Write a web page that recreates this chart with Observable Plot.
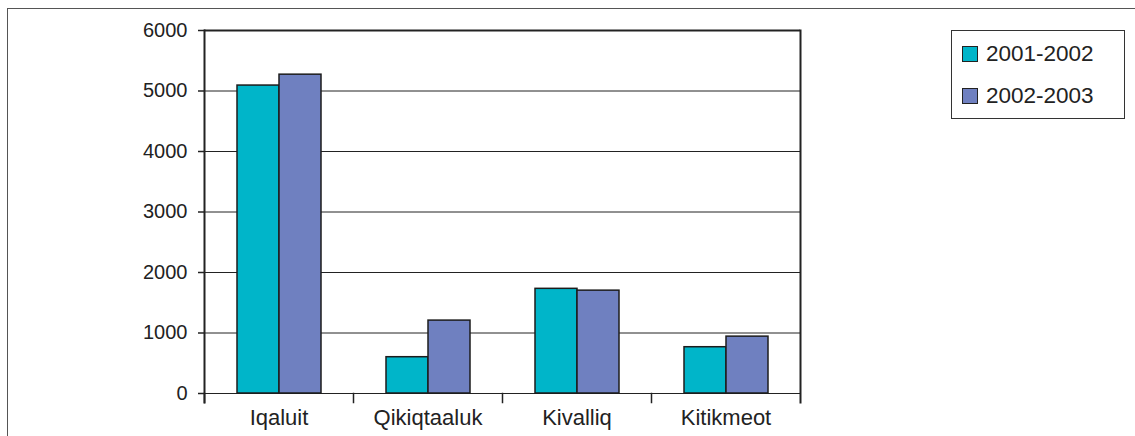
<!DOCTYPE html>
<html>
<head>
<meta charset="utf-8">
<script src="https://cdn.jsdelivr.net/npm/d3@7"></script>
<script src="https://cdn.jsdelivr.net/npm/@observablehq/plot@0.6"></script>
<style>
  html, body { margin: 0; padding: 0; background: #fff; overflow: hidden; }
  #wrap { position: relative; width: 1135px; height: 436px; }
  #outer { position: absolute; left: 7px; top: 8px; width: 1200px; height: 600px; border: 1.5px solid #555; box-sizing: border-box; }
  #legend { position: absolute; left: 951px; top: 30px; width: 174px; height: 89px; border: 1.5px solid #333; box-sizing: border-box;
            font-family: "Liberation Sans", Arial, sans-serif; font-size: 22.5px; color: #222; }
  .item { position: absolute; left: 10px; display: flex; align-items: center; }
  .sw { width: 16px; height: 16px; border: 1.5px solid #222; box-sizing: border-box; margin-right: 8px; }
  svg { position: absolute; left: 0; top: 0; }
</style>
</head>
<body>
<div id="wrap">
  <div id="outer"></div>
  <div id="chart"></div>
  <div id="legend"></div>
</div>
<script>
const regions = ["Iqaluit", "Qikiqtaaluk", "Kivalliq", "Kitikmeot"];
const seriesNames = ["2001-2002", "2002-2003"];
const values2001 = [5090, 600, 1730, 765];
const values2002 = [5270, 1205, 1700, 940];
const yTicks = [0, 1000, 2000, 3000, 4000, 5000, 6000];
const colors = ["#00B5C9", "#6F80C0"];

const seriesValues = [values2001, values2002];
const table = [];
regions.forEach((r, i) => {
  seriesNames.forEach((s, j) => table.push({region: r, series: s, value: seriesValues[j][i]}));
});

const marginTop = 30, marginBottom = 43, H = 436;

const chart = Plot.plot({
  width: 1135,
  height: H,
  marginLeft: 203,
  marginRight: 335,
  marginTop,
  marginBottom,
  style: {fontFamily: "'Liberation Sans', Arial, sans-serif", fontSize: "20px", color: "#222", background: "transparent", overflow: "visible"},
  fx: {domain: regions, padding: 0, label: null, axis: null},
  x: {domain: seriesNames, paddingInner: 0, paddingOuter: 0.75, axis: null},
  y: {domain: [0, 6000], label: null, axis: null},
  color: {domain: seriesNames, range: colors},
  marks: [
    Plot.ruleY(yTicks, {stroke: "#222", strokeWidth: 1}),
    Plot.barY(table, {fx: "region", x: "series", y: "value", fill: "series", stroke: "#1c1c1c", strokeWidth: 1.5}),
    Plot.ruleY([6000], {stroke: "#222", strokeWidth: 2}),
    Plot.frame({anchor: "left", facetAnchor: "left", insetBottom: -9, stroke: "#222", strokeWidth: 2}),
    Plot.frame({anchor: "right", facetAnchor: "right", insetBottom: -9, stroke: "#222", strokeWidth: 2}),
    Plot.frame({anchor: "left", insetTop: H - marginTop - marginBottom, insetBottom: -9, stroke: "#222", strokeWidth: 1.5}),
    Plot.axisY({ticks: yTicks, tickSize: 6, tickPadding: 11, fontSize: 20, label: null, tickFormat: d => String(d), stroke: "#222", strokeWidth: 1.5}),
    Plot.axisFx({anchor: "bottom", tickSize: 0, tickPadding: 16, fontSize: 22, label: null})
  ]
});
document.getElementById("chart").appendChild(chart);

const legend = document.getElementById("legend");
seriesNames.forEach((s, j) => {
  const item = document.createElement("div");
  item.className = "item";
  item.style.top = (j === 0 ? 10 : 52) + "px";
  const sw = document.createElement("div");
  sw.className = "sw";
  sw.style.background = colors[j];
  const t = document.createElement("span");
  t.textContent = s;
  item.appendChild(sw);
  item.appendChild(t);
  legend.appendChild(item);
});
</script>
</body>
</html>
